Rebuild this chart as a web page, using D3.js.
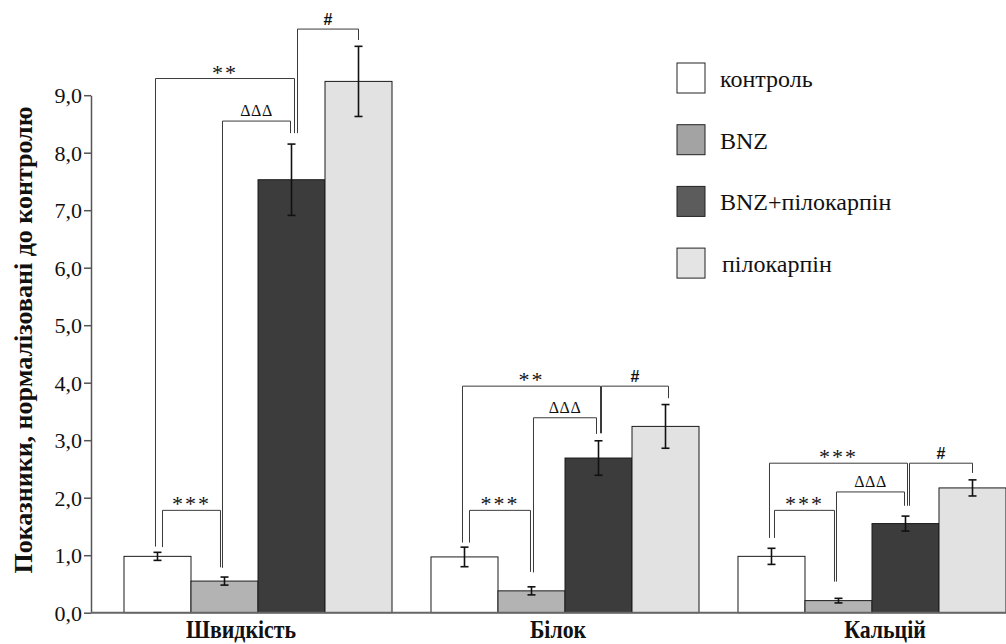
<!DOCTYPE html>
<html>
<head>
<meta charset="utf-8">
<script src="https://cdn.jsdelivr.net/npm/d3@7"></script>
<style>
  body { margin: 0; background: #fff; }
  svg { display: block; }
</style>
</head>
<body>
<div id="chart"></div>
<script>
// data
var groups = ['Швидкість', 'Білок', 'Кальцій'];
var series = ['контроль', 'BNZ', 'BNZ+пілокарпін', 'пілокарпін'];
var means = [
  [0.98, 0.55, 7.53, 9.24],
  [0.97, 0.38, 2.69, 3.24],
  [0.98, 0.21, 1.55, 2.17]
];
var errs = [
  [0.07, 0.07, 0.62, 0.61],
  [0.17, 0.07, 0.30, 0.38],
  [0.14, 0.04, 0.13, 0.14]
];
var yTicks = [0, 1, 2, 3, 4, 5, 6, 7, 8, 9];
// significance brackets: group, from bar, to bar, top, left leg end, right leg end, label
var brackets = [
  { g: 0, a: 0, b: 2, top: 9.29, ya: 1.15, yb: 8.34, label: '**', da: -2, db: 3 },
  { g: 0, a: 0, b: 1, top: 1.78, ya: 1.14, yb: 0.79, label: '***', da: 5, db: -4 },
  { g: 0, a: 1, b: 2, top: 8.55, ya: 0.78, yb: 8.34, label: 'ΔΔΔ', da: -2, db: -1 },
  { g: 0, a: 2, b: 3, top: 10.15, ya: 8.34, yb: 9.96, label: '#', da: 6, db: 0 },
  { g: 1, a: 0, b: 2, top: 3.94, ya: 1.22, yb: 3.12, label: '**', da: -2, db: 2 },
  { g: 1, a: 0, b: 1, top: 1.78, ya: 1.22, yb: 0.71, label: '***', da: 5, db: -1 },
  { g: 1, a: 1, b: 2, top: 3.39, ya: 0.70, yb: 3.11, label: 'ΔΔΔ', da: 2, db: -2 },
  { g: 1, a: 2, b: 3, top: 3.94, ya: 3.12, yb: 3.73, label: '#', da: 3, db: 3 },
  { g: 2, a: 0, b: 2, top: 2.60, ya: 1.30, yb: 1.86, label: '***', da: -2, db: 2 },
  { g: 2, a: 0, b: 1, top: 1.78, ya: 1.30, yb: 0.54, label: '***', da: 3, db: -4 },
  { g: 2, a: 1, b: 2, top: 2.10, ya: 0.54, yb: 1.86, label: 'ΔΔΔ', da: -2, db: -1 },
  { g: 2, a: 2, b: 3, top: 2.60, ya: 1.86, yb: 2.43, label: '#', da: 4, db: 0 }
];

var barColors = ['#ffffff', '#b3b3b3', '#3c3c3c', '#e2e2e2'];
var legendColors = ['#ffffff', '#a3a3a3', '#5c5c5c', '#e4e4e4'];
var labelShift = [-17, -7, 13];   // group titles are not quite centred in the original

var SERIF = "'Liberation Serif', 'Times New Roman', serif";
var SANS = "'Liberation Sans', Arial, sans-serif";

var width = 1006, height = 644;
var axisX = 91;

var svg = d3.select('#chart').append('svg')
    .attr('width', width)
    .attr('height', height);

var x0 = d3.scaleBand()
    .domain(groups)
    .range([104.5, 1025.5])
    .paddingInner(0.127)
    .paddingOuter(0.0635);

var x1 = d3.scaleBand()
    .domain(d3.range(series.length))
    .range([0, x0.bandwidth()]);

var y = d3.scaleLinear()
    .domain([0, 9])
    .range([612.7, 95.2]);

var fmt = function(d) { return d3.format('.1f')(d).replace('.', ','); };

function cx(g, s) {
  return x0(groups[g]) + x1(s) + x1.bandwidth() / 2;
}

// bars
var gBars = svg.append('g').attr('class', 'bars');
groups.forEach(function(gname, gi) {
  means[gi].forEach(function(v, si) {
    gBars.append('rect')
        .attr('x', x0(gname) + x1(si))
        .attr('y', y(v))
        .attr('width', x1.bandwidth())
        .attr('height', y(0) - y(v))
        .attr('fill', barColors[si])
        .attr('stroke', '#1a1a1a')
        .attr('stroke-width', 1);
  });
});

// error bars
var gErr = svg.append('g').attr('class', 'errors')
    .attr('stroke', '#111').attr('stroke-width', 1.6);
groups.forEach(function(gname, gi) {
  means[gi].forEach(function(v, si) {
    var c = cx(gi, si);
    var hi = y(v + errs[gi][si]), lo = y(v - errs[gi][si]);
    gErr.append('line').attr('x1', c).attr('x2', c).attr('y1', hi).attr('y2', lo);
    gErr.append('line').attr('x1', c - 4).attr('x2', c + 4).attr('y1', hi).attr('y2', hi);
    gErr.append('line').attr('x1', c - 4).attr('x2', c + 4).attr('y1', lo).attr('y2', lo);
  });
});

// brackets
var gBr = svg.append('g').attr('class', 'brackets');
brackets.forEach(function(b) {
  var xa = cx(b.g, b.a) + b.da;
  var xb = cx(b.g, b.b) + b.db;
  gBr.append('path')
      .attr('d', 'M' + xa + ',' + y(b.ya) + 'V' + y(b.top) + 'H' + xb + 'V' + y(b.yb))
      .attr('fill', 'none')
      .attr('stroke', '#3a3a3a')
      .attr('stroke-width', 1);
  var t = gBr.append('text')
      .attr('x', (xa + xb) / 2)
      .attr('text-anchor', 'middle')
      .attr('fill', '#111')
      .text(b.label);
  if (b.label == '#') {
    t.attr('y', y(b.top) - 4).style('font-size', '16px').style('font-weight', 'bold')
     .style('font-family', SANS);
  } else if (b.label == 'ΔΔΔ') {
    t.attr('y', y(b.top) - 5).style('font-size', '16px').style('letter-spacing', '0.5px')
     .style('font-family', SERIF);
  } else {
    t.attr('y', y(b.top) + 1).style('font-size', '22px').style('letter-spacing', '2px')
     .style('font-family', SERIF);
  }
});

// y axis
var yAxis = svg.append('g')
    .attr('class', 'yaxis')
    .attr('transform', 'translate(' + axisX + ',0)')
    .call(d3.axisLeft(y).tickValues(yTicks).tickFormat(fmt).tickSize(7).tickSizeOuter(0));
yAxis.select('.domain').attr('stroke', '#555').attr('stroke-width', 1.5);
yAxis.selectAll('.tick line').attr('stroke', '#555').attr('stroke-width', 1.5);
yAxis.selectAll('.tick text')
    .attr('x', -9)
    .attr('dy', '0.34em')
    .style('font-family', SERIF)
    .style('font-size', '22px')
    .attr('fill', '#111');

// x axis line
svg.append('line')
    .attr('x1', axisX).attr('x2', width)
    .attr('y1', y(0)).attr('y2', y(0))
    .attr('stroke', '#666').attr('stroke-width', 2);

// group labels (narrow bold serif)
svg.append('g').selectAll('text')
    .data(groups)
    .enter().append('text')
    .attr('transform', function(d, i) {
      return 'translate(' + (x0(d) + x0.bandwidth() / 2 + labelShift[i]) + ',638) scale(0.84,1)';
    })
    .attr('text-anchor', 'middle')
    .style('font-family', SERIF)
    .style('font-size', '26px')
    .style('font-weight', 'bold')
    .attr('fill', '#111')
    .text(function(d) { return d; });

// y label
svg.append('text')
    .attr('transform', 'translate(32,340) rotate(-90)')
    .attr('text-anchor', 'middle')
    .style('font-family', SERIF)
    .style('font-size', '26px')
    .style('font-weight', 'bold')
    .attr('fill', '#111')
    .text('Показники, нормалізовані до контролю');

// legend
var legend = svg.append('g').attr('class', 'legend')
    .attr('transform', 'translate(677,63)');
var li = legend.selectAll('g')
    .data(series)
    .enter().append('g')
    .attr('transform', function(d, i) { return 'translate(0,' + (i * 61.7) + ')'; });
li.append('rect')
    .attr('width', 28).attr('height', 30)
    .attr('fill', function(d, i) { return legendColors[i]; })
    .attr('stroke', '#222').attr('stroke-width', 1);
li.append('text')
    .attr('x', function(d, i) { return i == 3 ? 45 : 43; })
    .attr('y', 24)
    .style('font-family', SERIF)
    .style('font-size', '24px')
    .attr('fill', '#111')
    .text(function(d) { return d; });
</script>
</body>
</html>
